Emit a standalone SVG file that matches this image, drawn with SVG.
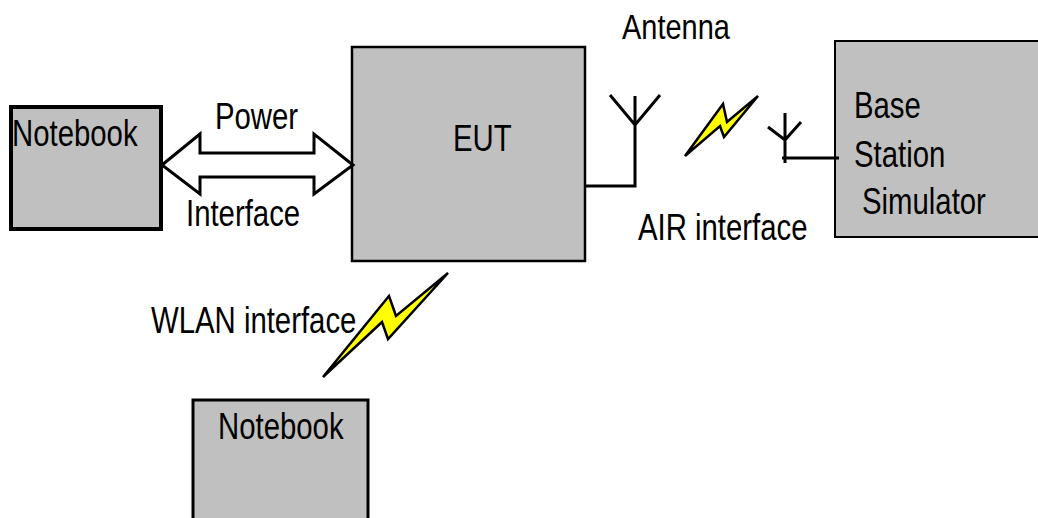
<svg xmlns="http://www.w3.org/2000/svg" width="1038" height="518" viewBox="0 0 1038 518">
<style>
.box{fill:#c0c0c0;stroke:#000}
.line{fill:none;stroke:#000;stroke-width:3}
.bolt{fill:#ff0;stroke:#000;stroke-width:2.5;stroke-linejoin:miter}
.arrow{fill:#fff;stroke:#000;stroke-width:3}
text{font-family:"Liberation Sans",Arial,sans-serif;font-size:36px;fill:#000}
</style>
<rect width="1038" height="518" fill="#fff"/>
<g id="notebook-left"><rect class="box" x="11" y="107" width="150" height="122" stroke-width="4"/><text transform="translate(12 146) scale(.815 1)">Notebook</text></g>
<g id="eut"><rect class="box" x="352" y="47" width="233" height="214" stroke-width="2.5"/><text transform="translate(453 151) scale(.815 1)">EUT</text></g>
<g id="base-station"><rect class="box" x="835" y="41" width="210" height="196" stroke-width="2"/><text transform="translate(854 118) scale(.815 1)">Base</text><text transform="translate(854 167) scale(.815 1)">Station</text><text transform="translate(862 214) scale(.815 1)">Simulator</text></g>
<g id="notebook-bottom"><rect class="box" x="193" y="400" width="175" height="130" stroke-width="3"/><text transform="translate(218 439) scale(.815 1)">Notebook</text></g>
<g id="connectors">
<path class="arrow" d="M162 165L200 134V153H314V134L353 165L314 194V177H200V194Z"/>
<path class="line" d="M586 186H635V96M610 95L635 125L660 95"/>
<path class="line" d="M785 113V163M768 127L785 140L801 122M782 158H839"/>
<path class="bolt" d="M685 156L723 104L727 122L758 96L724 137L720 126Z"/>
<path class="bolt" d="M323 377L389 296L396 316L448 273L388 339L382 322Z"/>
</g>
<g id="labels">
<text transform="translate(215 129) scale(.815 1)">Power</text>
<text transform="translate(186 226) scale(.815 1)">Interface</text>
<text transform="translate(622 39) scale(.805 1)">Antenna</text>
<text transform="translate(638 240) scale(.815 1)">AIR interface</text>
<text transform="translate(151 333) scale(.815 1)">WLAN interface</text>
</g>
</svg>
